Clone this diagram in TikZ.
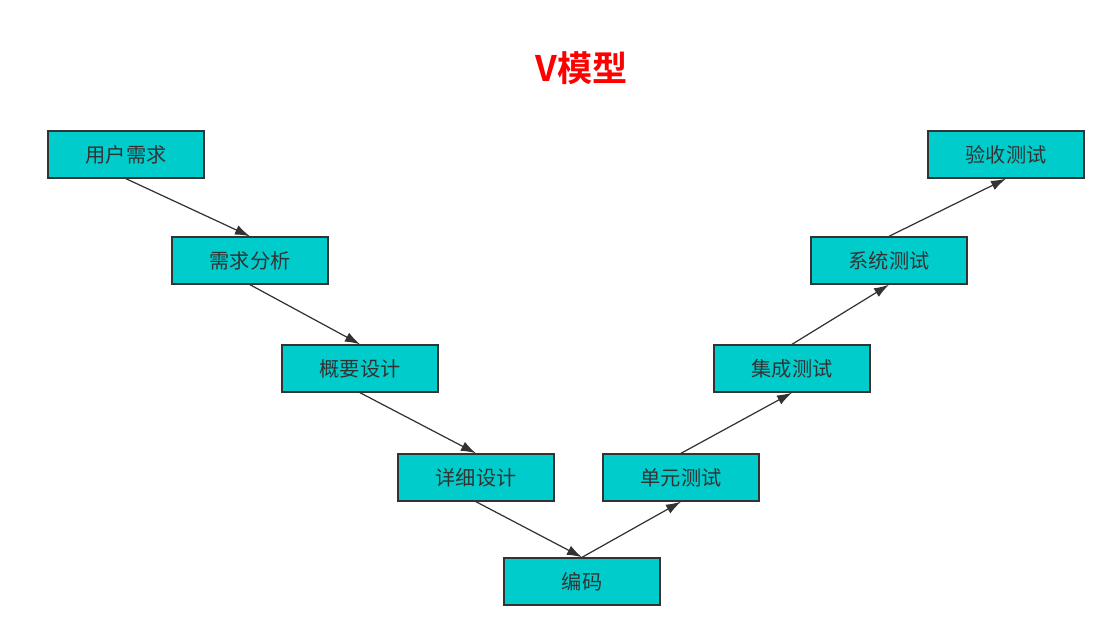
\documentclass[tikz,border=0pt]{standalone}
\usepackage{fontspec}
\usetikzlibrary{arrows.meta}
\setmainfont{Noto Sans CJK SC}
\newfontfamily\titlefont{Noto Sans CJK SC Bold}
\definecolor{boxcyan}{HTML}{00CCCC}
\definecolor{linegray}{HTML}{333333}
\tikzset{
    stage/.style={draw=linegray, line width=0.8pt, fill=boxcyan, minimum width=3.12cm,
        minimum height=0.94cm, inner sep=0pt, text=linegray, font=\fontsize{11.5}{13}\selectfont},
    flow/.style={draw=linegray, line width=0.7pt, -{Latex[length=0.3cm, width=0.2cm]}}
}
\begin{document}
\begin{tikzpicture}[x=0.02cm, y=-0.02cm]
    \useasboundingbox (0,0) rectangle (1116,637);

    \node[text=red, font=\titlefont\fontsize{20}{24}\selectfont] (title) at (582,68) {V模型};

    % left side
    \node[stage] (req)    at (126,154.5) {用户需求};
    \node[stage] (ana)    at (250,260.5) {需求分析};
    \node[stage] (hld)    at (360,368.5) {概要设计};
    \node[stage] (lld)    at (476,477.5) {详细设计};
    \node[stage] (code)   at (582,581.5) {编码};

    % right side
    \node[stage] (unit)   at (681,477.5) {单元测试};
    \node[stage] (integ)  at (792,368.5) {集成测试};
    \node[stage] (sys)    at (889,260.5) {系统测试};
    \node[stage] (accept) at (1006,154.5) {验收测试};

    \draw[flow] (req.south)   -- (ana.north);
    \draw[flow] (ana.south)   -- (hld.north);
    \draw[flow] (hld.south)   -- (lld.north);
    \draw[flow] (lld.south)   -- (code.north);
    \draw[flow] (code.north)  -- (unit.south);
    \draw[flow] (unit.north)  -- (integ.south);
    \draw[flow] (integ.north) -- (sys.south);
    \draw[flow] (sys.north)   -- (accept.south);

\end{tikzpicture}
\end{document}
